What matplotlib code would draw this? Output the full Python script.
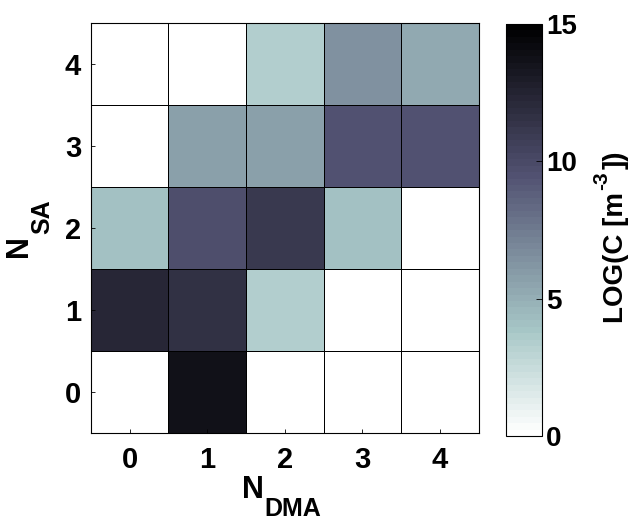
import numpy as np
import matplotlib
matplotlib.use("Agg")
import matplotlib.pyplot as plt
from matplotlib.colors import ListedColormap

plt.rcParams['font.family'] = ['Liberation Sans', 'DejaVu Sans']
plt.rcParams['font.weight'] = 'bold'

n_dma = [0, 1, 2, 3, 4]
n_sa = [0, 1, 2, 3, 4]
# rows: N_SA = 0..4, columns: N_DMA = 0..4 ; log10 concentration
log_c = np.array([
    [0.0, 13.8, 0.0, 0.0, 0.0],
    [12.2, 11.7, 3.3, 0.0, 0.0],
    [4.1, 9.8, 11.1, 4.0, 0.0],
    [0.0, 5.7, 5.7, 9.6, 9.4],
    [0.0, 0.0, 3.3, 6.4, 5.3],
])
cbar_ticks = [0, 5, 10, 15]

W, H = 640, 523
cmap = ListedColormap(plt.get_cmap('bone_r')(np.linspace(0, 1, 64)))

fig = plt.figure(figsize=(W / 100, H / 100), dpi=100)
ax = fig.add_axes([0.142, 0.172, 0.606, 0.784])
cax = fig.add_axes([0.790, 0.166, 0.057, 0.788])

edges_x = np.arange(len(n_dma) + 1) - 0.5
edges_y = np.arange(len(n_sa) + 1) - 0.5
mesh = ax.pcolormesh(edges_x, edges_y, log_c, cmap=cmap, vmin=0, vmax=15,
                     edgecolors='black', linewidth=0.6)
ax.set_xlim(-0.5, 4.5)
ax.set_ylim(-0.5, 4.5)
ax.set_xticks(n_dma)
ax.set_yticks(n_sa)
ax.set_xticklabels([str(v) for v in n_dma], fontsize=21, fontweight='bold')
ax.set_yticklabels([str(v) for v in n_sa], fontsize=21, fontweight='bold')
ax.tick_params(direction='in', length=3, width=0.6, pad=7)
ax.tick_params(axis='x', pad=9)
for s in ax.spines.values():
    s.set_linewidth(0.8)

cb = fig.colorbar(mesh, cax=cax, ticks=cbar_ticks)
cb.outline.set_linewidth(0.8)
cax.tick_params(direction='in', length=4, width=0.6, labelsize=20, pad=3)
for t in cax.get_yticklabels():
    t.set_fontweight('bold')

renderer = fig.canvas.get_renderer()


def fx(x):
    return x / W


def fy(y_top):
    return 1 - y_top / H


# x label: N_DMA  (N large, DMA subscript placed below the N baseline)
n_x = fig.text(0, fy(498), 'N', fontsize=22, fontweight='bold', ha='left', va='baseline')
s_x = fig.text(0, fy(516), 'DMA', fontsize=18, fontweight='bold', ha='left', va='baseline')
wn = n_x.get_window_extent(renderer).width
ws = s_x.get_window_extent(renderer).width
x0 = 281 - (wn + ws) / 2
n_x.set_x(fx(x0))
s_x.set_x(fx(x0 + wn + 1))

# y label: N_SA rotated
n_y = fig.text(fx(27), 0, 'N', fontsize=22, fontweight='bold', rotation=90,
               rotation_mode='anchor', ha='left', va='baseline')
s_y = fig.text(fx(49), 0, 'SA', fontsize=18, fontweight='bold', rotation=90,
               rotation_mode='anchor', ha='left', va='baseline')
hn = n_y.get_window_extent(renderer).height
hs = s_y.get_window_extent(renderer).height
y_bot = 229 + (hn + hs) / 2
n_y.set_y(fy(y_bot))
s_y.set_y(fy(y_bot - hn - 1))

# colorbar label: LOG(C [m^-3])
c1 = fig.text(fx(623), fy(323), 'LOG(C [m', fontsize=20, fontweight='bold', rotation=90,
              rotation_mode='anchor', ha='left', va='baseline')
h1 = c1.get_window_extent(renderer).height
c2 = fig.text(fx(607), fy(323 - h1 - 2), '-3', fontsize=15, fontweight='bold', rotation=90,
              rotation_mode='anchor', ha='left', va='baseline')
h2 = c2.get_window_extent(renderer).height
c3 = fig.text(fx(623), fy(323 - h1 - h2 - 4), '])', fontsize=20, fontweight='bold', rotation=90,
              rotation_mode='anchor', ha='left', va='baseline')

fig.savefig('out.png', dpi=100)
